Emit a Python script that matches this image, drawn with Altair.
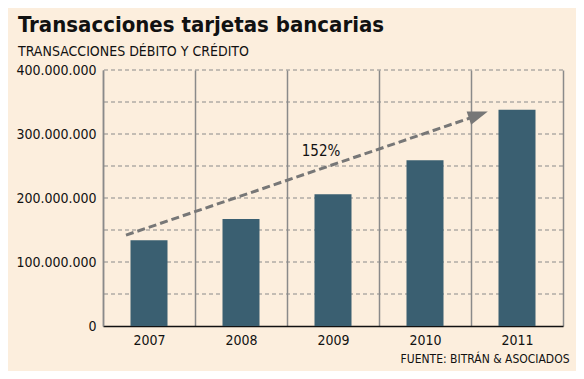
import altair as alt
import pandas as pd

years = ["2007", "2008", "2009", "2010", "2011"]
values = [134000000, 167000000, 206000000, 259000000, 338000000]

label_values = [0, 100000000, 200000000, 300000000, 400000000]
grid_values = [50000000, 100000000, 150000000, 200000000, 250000000,
               300000000, 350000000, 400000000]

# trend arrow (x in category units 0..5 across the plot)
arrow_x = [0.25, 3.99]
arrow_y = [142000000, 325000000]
head_x = [4.08]
head_y = [330000000]
label_x = [2.37]
label_y = [273000000]
label_text = ["152%"]

FONT = "DejaVu Sans Condensed, Tahoma, Liberation Sans, sans-serif"
BG = "#FCEEDD"
BAR = "#3A5F71"

bars_df = pd.DataFrame({"year": years, "value": values})
grid_df = pd.DataFrame({"g": grid_values})
arrow_df = pd.DataFrame({"x": arrow_x, "y": arrow_y})
head_df = pd.DataFrame({"x": head_x, "y": head_y})
label_df = pd.DataFrame({"x": label_x, "y": label_y, "t": label_text})

yscale = alt.Scale(domain=[0, 400000000], nice=False, zero=True)
xq = alt.Scale(domain=[0, 5], nice=False, zero=False)

label_expr = "replace(format(datum.value, ','), regexp(',', 'g'), '.')"

yaxis = alt.Axis(title=None, values=label_values, labelExpr=label_expr,
                 ticks=False, grid=False,
                 domainColor="#8A8A8A", domainWidth=1.5,
                 labelFont=FONT, labelFontSize=14, labelColor="#111111",
                 labelPadding=7)

grid = alt.Chart(grid_df).mark_rule(color="#8A8A8A", strokeWidth=1,
                                    strokeDash=[4, 3]).encode(
    y=alt.Y("g:Q", scale=yscale, axis=yaxis),
)

bars = alt.Chart(bars_df).mark_bar(color=BAR, size=37).encode(
    x=alt.X("year:N", sort=years,
            scale=alt.Scale(paddingInner=0, paddingOuter=0),
            axis=alt.Axis(title="FUENTE: BITRÁN & ASOCIADOS", labelAngle=0,
                          ticks=False, tickBand="extent", grid=True,
                          gridColor="#8A8A8A", gridWidth=1.5,
                          domainColor="#111111", domainWidth=1.5,
                          labelFont=FONT, labelFontSize=14, labelColor="#111111",
                          labelPadding=7,
                          titleFont=FONT, titleFontSize=12,
                          titleFontWeight="normal", titleColor="#111111",
                          titleAnchor="end", titleAlign="right",
                          titleX=466, titleY=36, titleBaseline="alphabetic")),
    y=alt.Y("value:Q", scale=yscale, axis=yaxis),
)

arrow = alt.Chart(arrow_df).mark_line(color="#777777", strokeWidth=3,
                                      strokeDash=[8, 4]).encode(
    x=alt.X("x:Q", scale=xq, axis=None),
    y=alt.Y("y:Q", scale=yscale),
)

head = alt.Chart(head_df).mark_point(
    shape="M-1,-0.7L1,0L-1,0.7Z", size=400, angle=341.2,
    filled=True, color="#777777", opacity=1).encode(
    x=alt.X("x:Q", scale=xq, axis=None),
    y=alt.Y("y:Q", scale=yscale),
)

label = alt.Chart(label_df).mark_text(font=FONT, fontSize=15,
                                      color="#111111").encode(
    x=alt.X("x:Q", scale=xq, axis=None),
    y=alt.Y("y:Q", scale=yscale),
    text="t:N",
)

chart = alt.layer(grid, bars, arrow, head, label).resolve_scale(
    x="independent"
).properties(
    width=460,
    height=256,
    autosize=alt.AutoSizeParams(type="none"),
    padding={"left": 95, "top": 62, "right": 13, "bottom": 45},
    background=BG,
    title=alt.TitleParams(
        text="Transacciones tarjetas bancarias",
        subtitle="TRANSACCIONES DÉBITO Y CRÉDITO",
        anchor="start", frame="group", dx=-85, offset=3,
        font=FONT, fontSize=22, fontWeight="bold", color="#111111",
        subtitleFont=FONT, subtitleFontSize=14, subtitleColor="#111111",
        subtitleFontWeight="normal", subtitlePadding=8,
    ),
).configure_view(stroke="transparent")

chart.save("out.html", embed_options={"renderer": "svg", "actions": False})
